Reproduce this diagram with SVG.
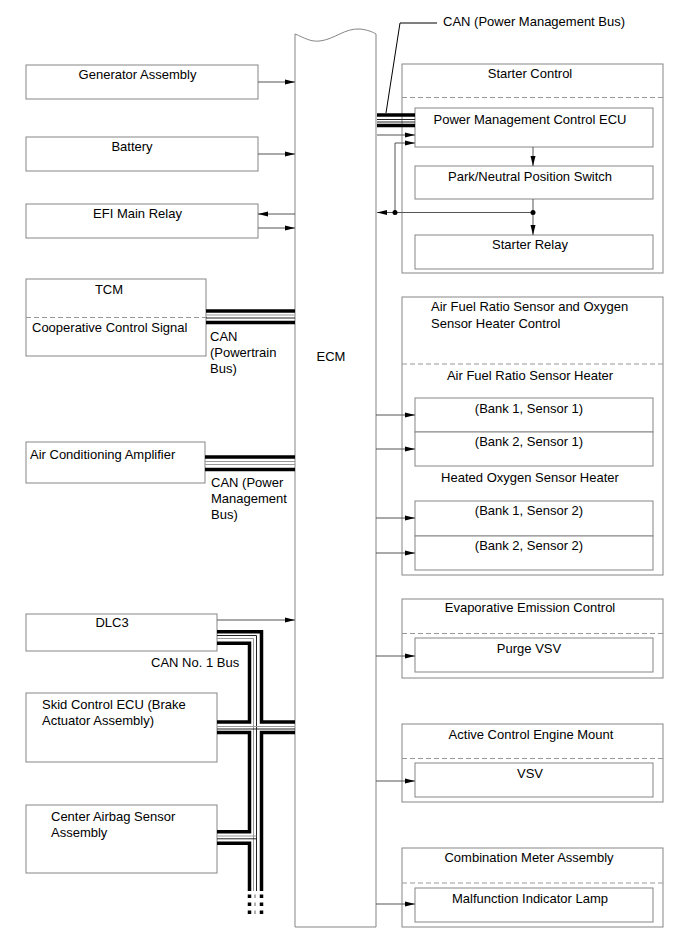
<svg xmlns="http://www.w3.org/2000/svg" width="690" height="952" viewBox="0 0 690 952">
<defs>
<marker id="ah" markerWidth="10" markerHeight="6" refX="10" refY="3" orient="auto" markerUnits="userSpaceOnUse"><path d="M0,0.5 L10,3 L0,5.5 z" fill="#000"/></marker>
<style>
.box{fill:#fff;stroke:#858585;stroke-width:1}
.dash{stroke:#999;stroke-width:1;stroke-dasharray:5,3;fill:none}
.t{font-family:"Liberation Sans",Arial,sans-serif;font-size:13px;fill:#000}
.m{text-anchor:middle}
.ar{stroke:#555;stroke-width:1;fill:none;marker-end:url(#ah)}
.ln{stroke:#555;stroke-width:1;fill:none}
.thk{stroke:#000;stroke-width:3.5;fill:none}
.thg{stroke:#999;stroke-width:1;fill:none}
.thb{stroke:#222;stroke-width:1;fill:none}
</style>
</defs>
<rect width="690" height="952" fill="#fff"/>

<g id="ecm">
<path class="box" d="M295,34 C305,38 310,42 320,41 C335,39 345,28 360,29 C368,30 373,32 376,34 L376,927 L295,927 Z"/>
<text class="t m" x="331" y="361">ECM</text>
</g>

<g id="generator"><rect class="box" x="26" y="65" width="232" height="34"/><text class="t m" x="137.5" y="79">Generator Assembly</text></g>
<g id="battery"><rect class="box" x="26" y="137" width="232" height="34"/><text class="t m" x="132" y="151">Battery</text></g>
<g id="efi"><rect class="box" x="26" y="204" width="232" height="34"/><text class="t m" x="137.5" y="218">EFI Main Relay</text></g>
<g id="tcm"><rect class="box" x="26" y="279" width="180" height="77"/><line class="dash" x1="26" y1="317.5" x2="210" y2="317.5"/><text class="t m" x="109" y="294">TCM</text><text class="t" x="32" y="332">Cooperative Control Signal</text></g>
<g id="ac"><rect class="box" x="26" y="442" width="179" height="41"/><text class="t" x="30" y="459">Air Conditioning Amplifier</text></g>
<g id="dlc3"><rect class="box" x="26" y="614" width="191" height="37"/><text class="t m" x="112" y="627">DLC3</text></g>
<g id="skid"><rect class="box" x="26" y="693" width="191" height="69"/><text class="t" x="42" y="709">Skid Control ECU (Brake</text><text class="t" x="42" y="725">Actuator Assembly)</text></g>
<g id="airbag"><rect class="box" x="26" y="805" width="191" height="68"/><text class="t" x="51" y="821">Center Airbag Sensor</text><text class="t" x="51" y="837">Assembly</text></g>

<g id="starter-control">
<rect class="box" x="402" y="64" width="261" height="209"/>
<text class="t m" x="530" y="78">Starter Control</text>
<line class="dash" x1="402" y1="97.5" x2="663" y2="97.5"/>
</g>
<g id="pm-ecu"><rect class="box" x="415" y="108" width="238" height="39"/><text class="t m" x="530" y="124">Power Management Control ECU</text></g>
<g id="park"><rect class="box" x="415" y="166" width="238" height="33"/><text class="t m" x="530" y="181">Park/Neutral Position Switch</text></g>
<g id="starter-relay"><rect class="box" x="415" y="235" width="238" height="34"/><text class="t m" x="530" y="249">Starter Relay</text></g>

<g id="afr">
<rect class="box" x="402" y="297" width="261" height="278"/>
<text class="t" x="431" y="311">Air Fuel Ratio Sensor and Oxygen</text>
<text class="t" x="431" y="328">Sensor Heater Control</text>
<line class="dash" x1="402" y1="364" x2="663" y2="364"/>
<text class="t m" x="530" y="380">Air Fuel Ratio Sensor Heater</text>
<text class="t m" x="530" y="482">Heated Oxygen Sensor Heater</text>
</g>
<g id="b1s1"><rect class="box" x="415" y="398" width="238" height="34"/><text class="t m" x="529" y="413">(Bank 1, Sensor 1)</text></g>
<g id="b2s1"><rect class="box" x="415" y="432" width="238" height="34"/><text class="t m" x="529" y="446">(Bank 2, Sensor 1)</text></g>
<g id="b1s2"><rect class="box" x="415" y="501" width="238" height="35"/><text class="t m" x="529" y="515">(Bank 1, Sensor 2)</text></g>
<g id="b2s2"><rect class="box" x="415" y="536" width="238" height="34"/><text class="t m" x="529" y="550">(Bank 2, Sensor 2)</text></g>

<g id="evap"><rect class="box" x="402" y="599" width="261" height="79"/><text class="t m" x="530" y="612">Evaporative Emission Control</text><line class="dash" x1="402" y1="633.5" x2="663" y2="633.5"/></g>
<g id="purge"><rect class="box" x="415" y="638" width="238" height="34"/><text class="t m" x="529" y="653">Purge VSV</text></g>
<g id="mount"><rect class="box" x="402" y="724" width="261" height="78"/><text class="t m" x="531" y="739">Active Control Engine Mount</text><line class="dash" x1="402" y1="758.5" x2="663" y2="758.5"/></g>
<g id="vsv"><rect class="box" x="415" y="763" width="238" height="34"/><text class="t m" x="530" y="778">VSV</text></g>
<g id="meter"><rect class="box" x="402" y="848" width="261" height="79"/><text class="t m" x="529" y="862">Combination Meter Assembly</text><line class="dash" x1="402" y1="883" x2="663" y2="883"/></g>
<g id="mil"><rect class="box" x="415" y="888" width="238" height="34"/><text class="t m" x="530" y="903">Malfunction Indicator Lamp</text></g>

<g id="connectors">
<line class="ar" x1="258" y1="82" x2="295" y2="82"/>
<line class="ar" x1="258" y1="154" x2="295" y2="154"/>
<line class="ar" x1="295" y1="214" x2="258" y2="214"/>
<line class="ar" x1="258" y1="228" x2="295" y2="228"/>
<line class="ar" x1="217" y1="620" x2="295" y2="620"/>

<line class="ar" x1="377" y1="135" x2="415" y2="135"/>
<line class="ar" x1="395" y1="143" x2="415" y2="143"/>
<line class="ln" x1="395" y1="143" x2="395" y2="212.5"/>
<line class="ar" x1="533" y1="147" x2="533" y2="166"/>
<line class="ln" x1="533" y1="199" x2="533" y2="212.5"/>
<line class="ar" x1="533" y1="212.5" x2="533" y2="235"/>
<line class="ar" x1="533" y1="212.5" x2="377" y2="212.5"/>
<circle cx="395" cy="212.5" r="2.5" fill="#000"/>
<circle cx="533" cy="212.5" r="2.5" fill="#000"/>

<line class="ar" x1="376" y1="415" x2="415" y2="415"/>
<line class="ar" x1="376" y1="449" x2="415" y2="449"/>
<line class="ar" x1="376" y1="518" x2="415" y2="518"/>
<line class="ar" x1="376" y1="553" x2="415" y2="553"/>
<line class="ar" x1="376" y1="656" x2="415" y2="656"/>
<line class="ar" x1="376" y1="781" x2="415" y2="781"/>
<line class="ar" x1="376" y1="904" x2="415" y2="904"/>

<!-- CAN power management bus top -->
<polyline class="ln" points="386,113 400,23 437,23" style="stroke:#000"/>
<line class="thk" x1="377" y1="115" x2="415" y2="115"/>
<line class="thb" x1="377" y1="119.5" x2="415" y2="119.5"/>
<line class="thb" x1="377" y1="122" x2="415" y2="122"/>
<line class="thk" x1="377" y1="125.5" x2="415" y2="125.5"/>

<!-- TCM powertrain bus -->
<line class="thk" x1="206" y1="311" x2="295" y2="311"/>
<line class="thg" x1="206" y1="315" x2="295" y2="315"/>
<line class="thb" x1="206" y1="318" x2="295" y2="318"/>
<line class="thk" x1="206" y1="322.5" x2="295" y2="322.5"/>

<!-- AC bus -->
<line class="thk" x1="205" y1="457" x2="295" y2="457"/>
<line class="thg" x1="205" y1="461.5" x2="295" y2="461.5"/>
<line class="thg" x1="205" y1="464.5" x2="295" y2="464.5"/>
<line class="thk" x1="205" y1="469.5" x2="295" y2="469.5"/>

<!-- CAN No.1 bus -->
<polyline class="thk" points="217,631.7 261.5,631.7 261.5,722 295,722"/>
<polyline class="thk" points="217,643.3 249.5,643.3 249.5,722 217,722"/>
<polyline class="thk" points="217,732.5 249.5,732.5 249.5,831.7 217,831.7"/>
<polyline class="thk" points="295,732.5 261.5,732.5 261.5,891"/>
<polyline class="thk" points="217,843.3 249.5,843.3 249.5,891"/>
<polyline class="thb" points="217,635.5 256.5,635.5 256.5,891"/>
<polyline class="thg" points="217,638.5 253.5,638.5 253.5,891"/>
<line class="thg" x1="217" y1="726.5" x2="295" y2="726.5"/>
<line class="thb" x1="217" y1="729" x2="295" y2="729"/>
<line class="thg" x1="217" y1="836" x2="256.5" y2="836"/>
<line class="thb" x1="217" y1="838.8" x2="256.5" y2="838.8"/>
<g style="stroke-dasharray:3.5,4.5">
<line x1="249.5" y1="894.5" x2="249.5" y2="916" style="stroke:#000;stroke-width:3.5"/>
<line x1="261.5" y1="894.5" x2="261.5" y2="916" style="stroke:#000;stroke-width:3.5"/>
<line x1="255" y1="894.5" x2="255" y2="916" style="stroke:#999;stroke-width:1.5"/>
</g>
</g>

<g id="labels">
<text class="t" x="443" y="26">CAN (Power Management Bus)</text>
<text class="t" x="210" y="341">CAN</text>
<text class="t" x="210" y="357">(Powertrain</text>
<text class="t" x="210" y="373">Bus)</text>
<text class="t" x="211" y="487">CAN (Power</text>
<text class="t" x="211" y="503">Management</text>
<text class="t" x="211" y="519">Bus)</text>
<text class="t" x="151" y="667">CAN No. 1 Bus</text>
</g>
</svg>
